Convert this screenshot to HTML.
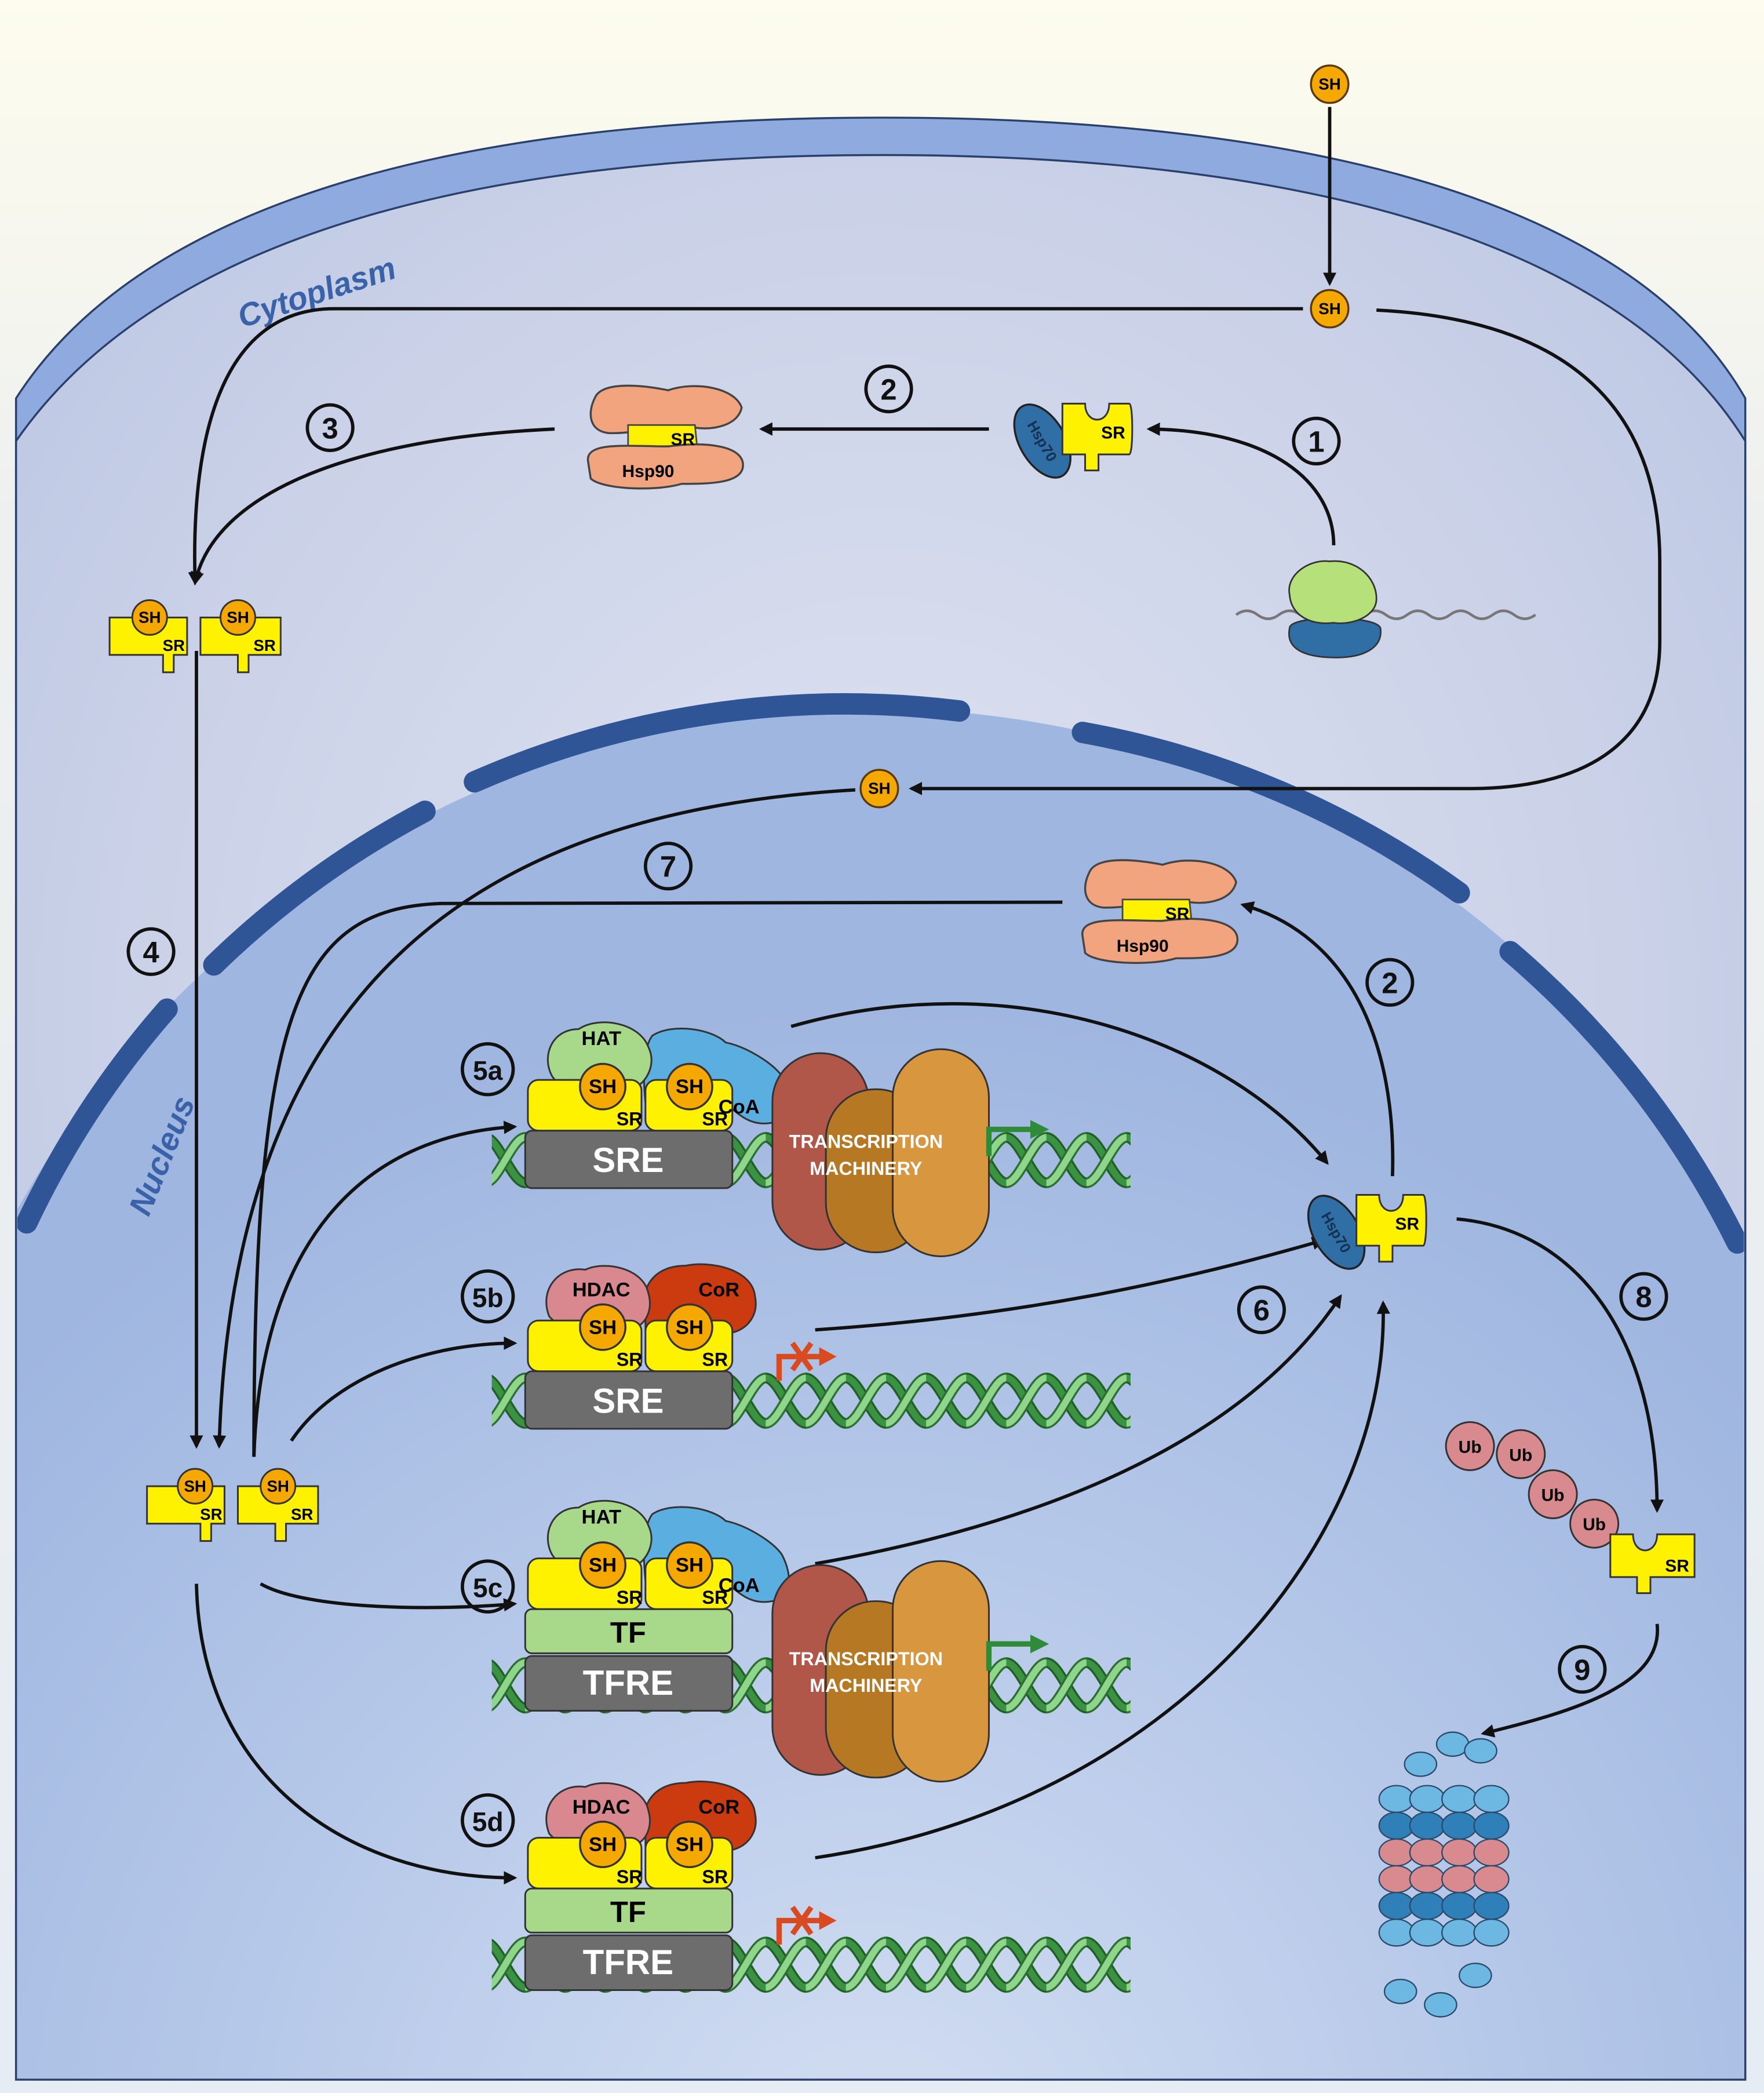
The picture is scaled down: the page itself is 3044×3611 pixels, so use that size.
<!DOCTYPE html>
<html><head><meta charset="utf-8"><style>html,body{margin:0;padding:0;background:#fff;overflow:hidden;width:3044px;height:3611px}svg{display:block}text{font-family:"Liberation Sans",sans-serif;font-weight:bold}</style></head>
<body>
<svg width="3044" height="3611" viewBox="0 0 1320 1566" preserveAspectRatio="none" xmlns="http://www.w3.org/2000/svg">
<defs>
<linearGradient id="bg" x1="0" y1="0" x2="0" y2="1"><stop offset="0" stop-color="#fdfcee"/><stop offset="0.25" stop-color="#eef0ef"/><stop offset="1" stop-color="#e6ecf4"/></linearGradient>
<radialGradient id="cyto" cx="0.5" cy="0.45" r="0.7"><stop offset="0" stop-color="#dfe4f1"/><stop offset="0.6" stop-color="#cbd2e8"/><stop offset="1" stop-color="#b8c4e2"/></radialGradient>
<radialGradient id="nuc" cx="0.5" cy="0.75" r="0.6"><stop offset="0" stop-color="#d3def2"/><stop offset="0.6" stop-color="#b3c6e8"/><stop offset="1" stop-color="#9fb6e0"/></radialGradient>
<pattern id="helix" patternUnits="userSpaceOnUse" width="30" height="46">
<path d="M0,6 C10,6 20,40 30,40" fill="none" stroke="#1f5f26" stroke-width="8"/>
<path d="M0,6 C10,6 20,40 30,40" fill="none" stroke="#3a9242" stroke-width="5"/>
<path d="M0,40 C10,40 20,6 30,6" fill="none" stroke="#2b6f30" stroke-width="8"/>
<path d="M0,40 C10,40 20,6 30,6" fill="none" stroke="#8fd68c" stroke-width="5"/>
</pattern>
<marker id="ah" markerWidth="10" markerHeight="10" refX="8" refY="5" orient="auto" markerUnits="userSpaceOnUse"><path d="M0,0 L10,5 L0,10 Z" fill="#111"/></marker>
</defs>
<rect width="1320" height="1566" fill="url(#bg)"/>
<path d="M12,1556 L12,298 C120,130 400,88 660,88 C920,88 1210,130 1306,298 L1306,1556 Z" fill="#8eaade" stroke="#2a3f6a" stroke-width="1.5"/>
<path d="M12,1556 L12,330 C130,160 400,116 660,116 C920,116 1200,160 1306,330 L1306,1556 Z" fill="url(#cyto)" stroke="#2a3f6a" stroke-width="1.5"/>
<text x="170" y="225" font-size="24" fill="#3a62a8" transform="rotate(-18 240 200)" font-style="italic">Cytoplasm</text>
<clipPath id="cl"><rect x="13" y="0" width="1292" height="1555"/></clipPath>
<g clip-path="url(#cl)">
<circle cx="652" cy="1262" r="732" fill="url(#nuc)"/>
<g fill="none" stroke="#2f5596" stroke-width="16" stroke-linecap="round">
<path d="M20,915 A689,689 0 0 1 125,755"/>
<path d="M160,722 A689,689 0 0 1 318,607"/>
<path d="M355,585 A689,689 0 0 1 718,532"/>
<path d="M810,548 A689,689 0 0 1 1092,668"/>
<path d="M1130,712 A689,689 0 0 1 1300,930"/>
</g>
</g>
<text x="60" y="905" font-size="24" fill="#3a62a8" transform="rotate(-68 90 870)" font-style="italic">Nucleus</text>

<g fill="none" stroke="#111" stroke-width="2.5">
<path d="M995,80 L995,212" marker-end="url(#ah)"/>
<path d="M975,231 L250,231 C160,231 143,340 146,436" marker-end="url(#ah)"/>
<path d="M415,321 C260,328 160,370 146,436" marker-end="url(#ah)"/>
<path d="M740,321 L570,321" marker-end="url(#ah)"/>
<path d="M998,408 C998,360 950,322 860,321" marker-end="url(#ah)"/>
<path d="M1030,232 C1190,240 1242,320 1242,420 L1242,480 C1242,560 1180,590 1100,590 L682,590" marker-end="url(#ah)"/>
<path d="M147,487 L147,1082" marker-end="url(#ah)"/>
<path d="M640,591 C400,605 175,700 164,1082" marker-end="url(#ah)"/>
<path d="M795,675 L330,676 C220,680 190,760 190,1090"/>
<path d="M190,1090 C195,930 270,850 385,843" marker-end="url(#ah)"/>
<path d="M218,1078 C250,1030 320,1005 385,1005" marker-end="url(#ah)"/>
<path d="M195,1185 C230,1205 330,1205 385,1200" marker-end="url(#ah)"/>
<path d="M147,1185 C150,1330 260,1405 385,1405" marker-end="url(#ah)"/>
<path d="M592,768 C760,720 920,780 993,870" marker-end="url(#ah)"/>
<path d="M610,995 C760,985 880,960 990,928" marker-end="url(#ah)"/>
<path d="M610,1170 C780,1140 930,1080 1003,970" marker-end="url(#ah)"/>
<path d="M610,1390 C880,1350 1040,1150 1035,975" marker-end="url(#ah)"/>
<path d="M1042,880 C1045,780 1010,700 930,677" marker-end="url(#ah)"/>
<path d="M1090,912 C1180,920 1240,1000 1240,1130" marker-end="url(#ah)"/>
<path d="M1240,1215 C1245,1260 1180,1280 1110,1297" marker-end="url(#ah)"/>
</g>

<g font-size="12" text-anchor="middle">
<circle cx="995" cy="63" r="14" fill="#f5a800" stroke="#5a3a00" stroke-width="1.5"/><text x="995" y="67">SH</text>
<circle cx="995" cy="231" r="14" fill="#f5a800" stroke="#5a3a00" stroke-width="1.5"/><text x="995" y="235">SH</text>
<circle cx="658" cy="590" r="14" fill="#f5a800" stroke="#5a3a00" stroke-width="1.5"/><text x="658" y="594">SH</text>
</g>

<g fill="none" stroke="#111" stroke-width="2.5">
<circle cx="985" cy="330" r="17"/><circle cx="665" cy="291" r="17"/><circle cx="247" cy="320" r="17"/>
<circle cx="113" cy="712" r="17"/><circle cx="500" cy="648" r="17"/><circle cx="1040" cy="735" r="17"/>
<circle cx="365" cy="800" r="19"/><circle cx="365" cy="970" r="19"/><circle cx="944" cy="980" r="17"/>
<circle cx="1230" cy="970" r="17"/><circle cx="365" cy="1187" r="19"/><circle cx="365" cy="1362" r="19"/>
<circle cx="1184" cy="1249" r="17"/>
</g>
<g font-size="22" text-anchor="middle" fill="#111">
<text x="985" y="338">1</text><text x="665" y="299">2</text><text x="247" y="328">3</text>
<text x="113" y="720">4</text><text x="500" y="656">7</text><text x="1040" y="743">2</text>
<text x="365" y="808" font-size="20">5a</text><text x="365" y="978" font-size="20">5b</text><text x="944" y="988">6</text>
<text x="1230" y="978">8</text><text x="365" y="1195" font-size="20">5c</text><text x="365" y="1370" font-size="20">5d</text>
<text x="1184" y="1257">9</text>
</g>

<g>
<path d="M445,298 C450,285 480,288 500,292 C520,285 550,290 555,305 C552,318 535,322 520,320 C505,318 470,325 455,324 C440,322 440,308 445,298Z" fill="#f2a47e" stroke="#444" stroke-width="1.5"/>
<path d="M470,318 L520,318 L522,338 L470,338 Z" fill="#fff200" stroke="#444" stroke-width="1.2"/>
<path d="M440,345 C438,330 470,334 500,334 C530,330 556,334 556,348 C556,362 530,362 510,362 C490,368 450,366 442,358Z" fill="#f2a47e" stroke="#444" stroke-width="1.5"/>
<text x="511" y="333" font-size="13" text-anchor="middle">SR</text>
<text x="485" y="357" font-size="13" text-anchor="middle">Hsp90</text>
</g>
<g>
<ellipse cx="780" cy="330" rx="17" ry="30" transform="rotate(-30 780 330)" fill="#2f6fa6" stroke="#222" stroke-width="1.5"/>
<path d="M795,302 L812,302 C812,318 830,318 830,302 L845,302 C848,302 848,340 845,340 L822,340 L822,352 L812,352 L812,340 L795,340 Z" fill="#fff200" stroke="#333" stroke-width="1.3"/>
<text x="833" y="328" font-size="13" text-anchor="middle">SR</text>
<text x="780" y="334" font-size="11" fill="#163050" text-anchor="middle" transform="rotate(60 780 330)">Hsp70</text>
</g>
<path d="M925,460 q8,-6 16,0 q8,6 16,0 q8,-6 16,0 q8,6 16,0 q8,-6 16,0 q8,6 16,0 q8,-6 16,0 q8,6 16,0 q8,-6 16,0 q8,6 16,0 q8,-6 16,0 q8,6 16,0 q8,-6 16,0 q8,6 16,0" fill="none" stroke="#777" stroke-width="2"/>
<path d="M965,470 C965,460 1030,460 1033,470 C1035,485 1020,492 1000,492 C975,492 962,485 965,470Z" fill="#2f6fa6" stroke="#333" stroke-width="1.2"/>
<path d="M965,445 C962,430 980,418 995,420 C1015,418 1030,432 1030,448 C1030,462 1010,468 998,466 C980,468 966,460 965,445Z" fill="#b6e07a" stroke="#333" stroke-width="1.2"/>

<g>
<path d="M82,462 L140,462 L140,490 L130,490 L130,503 L122,503 L122,490 L82,490 Z" fill="#fff200" stroke="#333" stroke-width="1.3"/>
<path d="M150,462 L210,462 L210,490 L186,490 L186,503 L178,503 L178,490 L150,490 Z" fill="#fff200" stroke="#333" stroke-width="1.3"/>
<circle cx="112" cy="462" r="13" fill="#f5a800" stroke="#333" stroke-width="1.3"/>
<circle cx="178" cy="462" r="13" fill="#f5a800" stroke="#333" stroke-width="1.3"/>
<g font-size="12" text-anchor="middle"><text x="112" y="466">SH</text><text x="178" y="466">SH</text><text x="130" y="487">SR</text><text x="198" y="487">SR</text></g>
</g>
<g transform="translate(28,650)">
<path d="M82,462 L140,462 L140,490 L130,490 L130,503 L122,503 L122,490 L82,490 Z" fill="#fff200" stroke="#333" stroke-width="1.3"/>
<path d="M150,462 L210,462 L210,490 L186,490 L186,503 L178,503 L178,490 L150,490 Z" fill="#fff200" stroke="#333" stroke-width="1.3"/>
<circle cx="118" cy="462" r="13" fill="#f5a800" stroke="#333" stroke-width="1.3"/>
<circle cx="180" cy="462" r="13" fill="#f5a800" stroke="#333" stroke-width="1.3"/>
<g font-size="12" text-anchor="middle"><text x="118" y="466">SH</text><text x="180" y="466">SH</text><text x="130" y="487">SR</text><text x="198" y="487">SR</text></g>
</g>

<g transform="translate(370,355)">
<path d="M445,298 C450,285 480,288 500,292 C520,285 550,290 555,305 C552,318 535,322 520,320 C505,318 470,325 455,324 C440,322 440,308 445,298Z" fill="#f2a47e" stroke="#444" stroke-width="1.5"/>
<path d="M470,318 L520,318 L522,338 L470,338 Z" fill="#fff200" stroke="#444" stroke-width="1.2"/>
<path d="M440,345 C438,330 470,334 500,334 C530,330 556,334 556,348 C556,362 530,362 510,362 C490,368 450,366 442,358Z" fill="#f2a47e" stroke="#444" stroke-width="1.5"/>
<text x="511" y="333" font-size="13" text-anchor="middle">SR</text>
<text x="485" y="357" font-size="13" text-anchor="middle">Hsp90</text>
</g>
<g transform="translate(220,592)">
<ellipse cx="780" cy="330" rx="17" ry="30" transform="rotate(-30 780 330)" fill="#2f6fa6" stroke="#222" stroke-width="1.5"/>
<path d="M795,302 L812,302 C812,318 830,318 830,302 L845,302 C848,302 848,340 845,340 L822,340 L822,352 L812,352 L812,340 L795,340 Z" fill="#fff200" stroke="#333" stroke-width="1.3"/>
<text x="833" y="328" font-size="13" text-anchor="middle">SR</text>
<text x="780" y="334" font-size="11" fill="#163050" text-anchor="middle" transform="rotate(60 780 330)">Hsp70</text>
</g>

<g fill="#d98a8f" stroke="#333" stroke-width="1.3">
<circle cx="1100" cy="1082" r="18"/><circle cx="1138" cy="1088" r="18"/><circle cx="1162" cy="1118" r="18"/><circle cx="1193" cy="1140" r="18"/>
</g>
<g font-size="13" text-anchor="middle"><text x="1100" y="1087">Ub</text><text x="1138" y="1093">Ub</text><text x="1162" y="1123">Ub</text><text x="1193" y="1145">Ub</text></g>
<path d="M1205,1148 L1222,1148 C1222,1164 1240,1164 1240,1148 L1268,1148 L1268,1180 L1235,1180 L1235,1192 L1225,1192 L1225,1180 L1205,1180 Z" fill="#fff200" stroke="#333" stroke-width="1.3"/>
<text x="1255" y="1176" font-size="13" text-anchor="middle">SR</text>

<g stroke="#2a4a6a" stroke-width="1">
<g fill="#6cb8e2"><ellipse cx="1063" cy="1320" rx="12" ry="9"/><ellipse cx="1087" cy="1305" rx="12" ry="9"/><ellipse cx="1108" cy="1310" rx="12" ry="9"/><ellipse cx="1048" cy="1490" rx="12" ry="9"/><ellipse cx="1078" cy="1500" rx="12" ry="9"/><ellipse cx="1104" cy="1478" rx="12" ry="9"/></g>
<g fill="#6cb8e2"><ellipse cx="1045" cy="1346" rx="13" ry="10"/><ellipse cx="1068" cy="1346" rx="13" ry="10"/><ellipse cx="1092" cy="1346" rx="13" ry="10"/><ellipse cx="1116" cy="1346" rx="13" ry="10"/></g>
<g fill="#2f7fb8"><ellipse cx="1045" cy="1366" rx="13" ry="10"/><ellipse cx="1068" cy="1366" rx="13" ry="10"/><ellipse cx="1092" cy="1366" rx="13" ry="10"/><ellipse cx="1116" cy="1366" rx="13" ry="10"/></g>
<g fill="#d98a8f"><ellipse cx="1045" cy="1386" rx="13" ry="10"/><ellipse cx="1068" cy="1386" rx="13" ry="10"/><ellipse cx="1092" cy="1386" rx="13" ry="10"/><ellipse cx="1116" cy="1386" rx="13" ry="10"/></g>
<g fill="#d98a8f"><ellipse cx="1045" cy="1406" rx="13" ry="10"/><ellipse cx="1068" cy="1406" rx="13" ry="10"/><ellipse cx="1092" cy="1406" rx="13" ry="10"/><ellipse cx="1116" cy="1406" rx="13" ry="10"/></g>
<g fill="#2f7fb8"><ellipse cx="1045" cy="1426" rx="13" ry="10"/><ellipse cx="1068" cy="1426" rx="13" ry="10"/><ellipse cx="1092" cy="1426" rx="13" ry="10"/><ellipse cx="1116" cy="1426" rx="13" ry="10"/></g>
<g fill="#6cb8e2"><ellipse cx="1045" cy="1446" rx="13" ry="10"/><ellipse cx="1068" cy="1446" rx="13" ry="10"/><ellipse cx="1092" cy="1446" rx="13" ry="10"/><ellipse cx="1116" cy="1446" rx="13" ry="10"/></g>
</g>

<g transform="translate(393,845)">
<rect x="-25" y="0" width="478" height="46" fill="url(#helix)"/>
<path d="M95,-70 C110,-80 140,-75 150,-65 C165,-62 185,-50 192,-40 C200,-25 200,-8 185,-5 C170,-2 160,-10 150,-20 L90,-20 C88,-40 88,-60 95,-70Z" fill="#5aaee0" stroke="#333" stroke-width="1.3"/>
<path d="M20,-40 C12,-55 20,-75 40,-75 C55,-85 85,-80 92,-62 C98,-50 92,-38 85,-33 L25,-33 Z" fill="#a8d88a" stroke="#333" stroke-width="1.3"/>
<rect x="2" y="-37" width="85" height="38" rx="8" fill="#fff200" stroke="#333" stroke-width="1.3"/>
<rect x="90" y="-37" width="65" height="38" rx="8" fill="#fff200" stroke="#333" stroke-width="1.3"/>
<circle cx="58" cy="-32" r="17" fill="#f5a800" stroke="#333" stroke-width="1.5"/>
<circle cx="123" cy="-32" r="17" fill="#f5a800" stroke="#333" stroke-width="1.5"/>
<rect x="0" y="1" width="155" height="43" rx="5" fill="#6d6d6d" stroke="#333" stroke-width="1.3"/>
<rect x="185" y="-57" width="72" height="147" rx="36" fill="#b0574a" stroke="#333" stroke-width="1.3"/>
<rect x="225" y="-30" width="75" height="122" rx="37" fill="#b77824" stroke="#333" stroke-width="1.3"/>
<rect x="275" y="-60" width="72" height="155" rx="36" fill="#d8963f" stroke="#333" stroke-width="1.3"/>
<g text-anchor="middle">
<text x="57" y="-63" font-size="15">HAT</text><text x="160" y="-12" font-size="15">CoA</text>
<text x="58" y="-27" font-size="15">SH</text><text x="123" y="-27" font-size="15">SH</text>
<text x="78" y="-3" font-size="14">SR</text><text x="142" y="-3" font-size="14">SR</text>
<text x="77" y="32" font-size="26" fill="#fff">SRE</text>
<text x="255" y="14" font-size="14" fill="#fff" font-weight="normal">TRANSCRIPTION</text>
<text x="255" y="34" font-size="14" fill="#fff" font-weight="normal">MACHINERY</text>
</g>
<path d="M347,20 L347,0 L380,0" fill="none" stroke="#2e8b3a" stroke-width="4"/><path d="M378,-7 L392,0 L378,7Z" fill="#2e8b3a"/>
</g>

<g transform="translate(393,1025)">
<rect x="-25" y="0" width="478" height="46" fill="url(#helix)"/>
<path d="M90,-40 C85,-60 95,-78 120,-78 C140,-82 170,-75 172,-55 C175,-40 165,-30 155,-28 L90,-30Z" fill="#cc3a10" stroke="#333" stroke-width="1.3"/>
<path d="M18,-40 C10,-60 25,-78 45,-75 C60,-82 88,-76 92,-58 C96,-45 90,-36 85,-33 L25,-33Z" fill="#d98890" stroke="#333" stroke-width="1.3"/>
<rect x="2" y="-37" width="85" height="38" rx="8" fill="#fff200" stroke="#333" stroke-width="1.3"/>
<rect x="90" y="-37" width="65" height="38" rx="8" fill="#fff200" stroke="#333" stroke-width="1.3"/>
<circle cx="58" cy="-32" r="17" fill="#f5a800" stroke="#333" stroke-width="1.5"/>
<circle cx="123" cy="-32" r="17" fill="#f5a800" stroke="#333" stroke-width="1.5"/>
<rect x="0" y="1" width="155" height="43" rx="5" fill="#6d6d6d" stroke="#333" stroke-width="1.3"/>
<g text-anchor="middle">
<text x="57" y="-55" font-size="15">HDAC</text><text x="145" y="-55" font-size="15">CoR</text>
<text x="58" y="-27" font-size="15">SH</text><text x="123" y="-27" font-size="15">SH</text>
<text x="78" y="-3" font-size="14">SR</text><text x="142" y="-3" font-size="14">SR</text>
<text x="77" y="32" font-size="26" fill="#fff">SRE</text>
</g>
<path d="M190,8 L190,-10 L222,-10" fill="none" stroke="#d84a20" stroke-width="4"/><path d="M220,-17 L233,-10 L220,-3Z" fill="#d84a20"/>
<path d="M200,-20 L214,0 M214,-20 L200,0" stroke="#d84a20" stroke-width="4"/>
</g>

<g transform="translate(393,1238)">
<rect x="-25" y="0" width="478" height="46" fill="url(#helix)"/>
<g transform="translate(0,-35)">
<path d="M95,-70 C110,-80 140,-75 150,-65 C165,-62 185,-50 192,-40 C200,-25 200,-8 185,-5 C170,-2 160,-10 150,-20 L90,-20 C88,-40 88,-60 95,-70Z" fill="#5aaee0" stroke="#333" stroke-width="1.3"/>
<path d="M20,-40 C12,-55 20,-75 40,-75 C55,-85 85,-80 92,-62 C98,-50 92,-38 85,-33 L25,-33 Z" fill="#a8d88a" stroke="#333" stroke-width="1.3"/>
<rect x="2" y="-37" width="85" height="38" rx="8" fill="#fff200" stroke="#333" stroke-width="1.3"/>
<rect x="90" y="-37" width="65" height="38" rx="8" fill="#fff200" stroke="#333" stroke-width="1.3"/>
<circle cx="58" cy="-32" r="17" fill="#f5a800" stroke="#333" stroke-width="1.5"/>
<circle cx="123" cy="-32" r="17" fill="#f5a800" stroke="#333" stroke-width="1.5"/>
<g text-anchor="middle">
<text x="57" y="-63" font-size="15">HAT</text><text x="160" y="-12" font-size="15">CoA</text>
<text x="58" y="-27" font-size="15">SH</text><text x="123" y="-27" font-size="15">SH</text>
<text x="78" y="-3" font-size="14">SR</text><text x="142" y="-3" font-size="14">SR</text>
</g>
</g>
<rect x="0" y="-34" width="155" height="33" rx="5" fill="#a8d88a" stroke="#333" stroke-width="1.3"/>
<rect x="0" y="1" width="155" height="41" rx="5" fill="#6d6d6d" stroke="#333" stroke-width="1.3"/>
<rect x="185" y="-67" width="72" height="157" rx="36" fill="#b0574a" stroke="#333" stroke-width="1.3"/>
<rect x="225" y="-40" width="75" height="132" rx="37" fill="#b77824" stroke="#333" stroke-width="1.3"/>
<rect x="275" y="-70" width="72" height="165" rx="36" fill="#d8963f" stroke="#333" stroke-width="1.3"/>
<g text-anchor="middle">
<text x="77" y="-9" font-size="22">TF</text>
<text x="77" y="30" font-size="26" fill="#fff">TFRE</text>
<text x="255" y="8" font-size="14" fill="#fff" font-weight="normal">TRANSCRIPTION</text>
<text x="255" y="28" font-size="14" fill="#fff" font-weight="normal">MACHINERY</text>
</g>
<path d="M347,12 L347,-8 L380,-8" fill="none" stroke="#2e8b3a" stroke-width="4"/><path d="M378,-15 L392,-8 L378,-1Z" fill="#2e8b3a"/>
</g>

<g transform="translate(393,1447)">
<rect x="-25" y="0" width="478" height="46" fill="url(#helix)"/>
<g transform="translate(0,-35)">
<path d="M90,-40 C85,-60 95,-78 120,-78 C140,-82 170,-75 172,-55 C175,-40 165,-30 155,-28 L90,-30Z" fill="#cc3a10" stroke="#333" stroke-width="1.3"/>
<path d="M18,-40 C10,-60 25,-78 45,-75 C60,-82 88,-76 92,-58 C96,-45 90,-36 85,-33 L25,-33Z" fill="#d98890" stroke="#333" stroke-width="1.3"/>
<rect x="2" y="-37" width="85" height="38" rx="8" fill="#fff200" stroke="#333" stroke-width="1.3"/>
<rect x="90" y="-37" width="65" height="38" rx="8" fill="#fff200" stroke="#333" stroke-width="1.3"/>
<circle cx="58" cy="-32" r="17" fill="#f5a800" stroke="#333" stroke-width="1.5"/>
<circle cx="123" cy="-32" r="17" fill="#f5a800" stroke="#333" stroke-width="1.5"/>
<g text-anchor="middle">
<text x="57" y="-55" font-size="15">HDAC</text><text x="145" y="-55" font-size="15">CoR</text>
<text x="58" y="-27" font-size="15">SH</text><text x="123" y="-27" font-size="15">SH</text>
<text x="78" y="-3" font-size="14">SR</text><text x="142" y="-3" font-size="14">SR</text>
</g>
</g>
<rect x="0" y="-34" width="155" height="33" rx="5" fill="#a8d88a" stroke="#333" stroke-width="1.3"/>
<rect x="0" y="1" width="155" height="41" rx="5" fill="#6d6d6d" stroke="#333" stroke-width="1.3"/>
<g text-anchor="middle">
<text x="77" y="-9" font-size="22">TF</text>
<text x="77" y="30" font-size="26" fill="#fff">TFRE</text>
</g>
<path d="M190,8 L190,-10 L222,-10" fill="none" stroke="#d84a20" stroke-width="4"/><path d="M220,-17 L233,-10 L220,-3Z" fill="#d84a20"/>
<path d="M200,-20 L214,0 M214,-20 L200,0" stroke="#d84a20" stroke-width="4"/>
</g>
</svg>
</body></html>
